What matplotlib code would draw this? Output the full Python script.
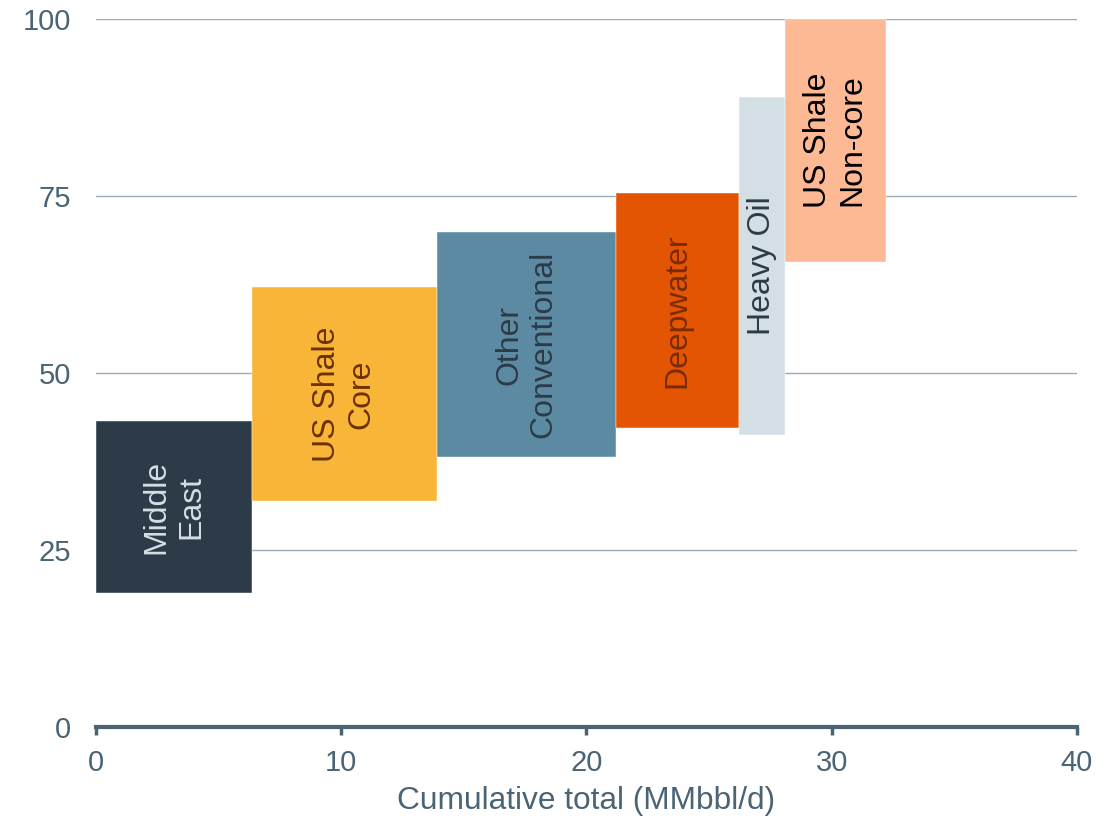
import matplotlib.pyplot as plt
import numpy as np

plt.rcParams['font.family'] = ['Liberation Sans', 'DejaVu Sans']

# supply segments, left to right
labels = ['Middle\nEast', 'US Shale\nCore', 'Other\nConventional', 'Deepwater', 'Heavy Oil', 'US Shale\nNon-core']
volumes = [6.35, 7.55, 7.3, 5.0, 1.9, 4.1]      # MMbbl/d
low = [18.9, 31.9, 38.1, 42.2, 41.2, 65.7]
high = [43.2, 62.1, 69.9, 75.4, 89.0, 100.0]

colors = ['#2c3b47', '#f8b538', '#5b8aa2', '#e35403', '#d3dfe5', '#fdb994']
text_colors = ['#d3dfe5', '#6b3100', '#2c3b47', '#7a2b00', '#2c3b47', '#000000']

slate = '#4a6475'

lefts = np.concatenate([[0], np.cumsum(volumes)[:-1]])
heights = np.array(high) - np.array(low)

fig = plt.figure(figsize=(11.15, 8.21), dpi=100)
ax = fig.add_axes([0.0861, 0.1145, 0.8798, 0.8625])

ax.bar(lefts, heights, width=volumes, bottom=low, align='edge',
       color=colors, edgecolor='white', linewidth=0.3, zorder=3)

for i in range(len(labels)):
    xc = lefts[i] + volumes[i] / 2
    yc = low[i] + heights[i] / 2
    ax.text(xc, yc, labels[i], rotation=90, ha='center', va='center',
            multialignment='center', fontsize=23, color=text_colors[i],
            linespacing=1.2, zorder=4)

ax.set_xlim(0, 40)
ax.set_ylim(0, 100)
ax.set_xticks([0, 10, 20, 30, 40])
ax.set_yticks([0, 25, 50, 75, 100])

ax.yaxis.grid(True, color='#9aabb8', linewidth=1.0, zorder=0)
ax.set_axisbelow(True)

for s in ['left', 'right', 'top']:
    ax.spines[s].set_visible(False)
ax.spines['bottom'].set_color(slate)
ax.spines['bottom'].set_linewidth(3)
ax.spines['bottom'].set_zorder(5)

ax.tick_params(axis='x', colors=slate, labelsize=21, length=6, width=2.5, pad=10)
ax.tick_params(axis='y', colors=slate, labelsize=21, length=0, pad=18)

ax.set_xlabel('Cumulative total (MMbbl/d)', fontsize=22.8, color=slate, labelpad=6)

fig.savefig('out.png', dpi=100)
